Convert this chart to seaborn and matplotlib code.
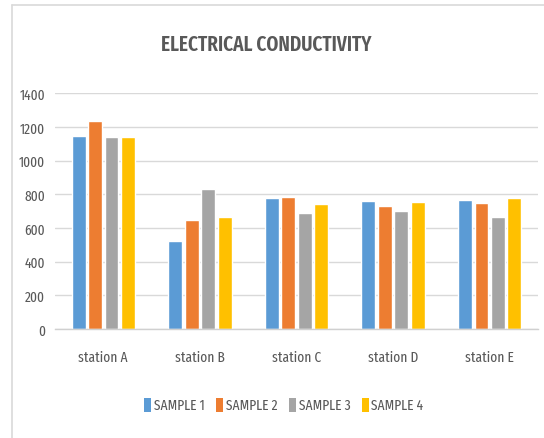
import matplotlib
matplotlib.use("Agg")
import matplotlib.pyplot as plt
from matplotlib.lines import Line2D
from matplotlib.patches import Patch
import pandas as pd
import seaborn as sns

stations = ["station A", "station B", "station C", "station D", "station E"]
samples = ["SAMPLE 1", "SAMPLE 2", "SAMPLE 3", "SAMPLE 4"]
sample1 = [1148, 525, 776, 762, 768]
sample2 = [1237, 646, 782, 729, 748]
sample3 = [1142, 830, 687, 701, 667]
sample4 = [1142, 668, 742, 756, 776]
colors = ["#5B9BD5", "#ED7D31", "#A5A5A5", "#FFC000"]
yticks = [0, 200, 400, 600, 800, 1000, 1200, 1400]

sns.set_style("white")
plt.rcParams["font.family"] = ["Fira Sans Extra Condensed", "DejaVu Sans"]
text_color = "#595959"

df = pd.DataFrame({
    "station": stations * 4,
    "sample": [s for s in samples for _ in stations],
    "value": sample1 + sample2 + sample3 + sample4,
})

W, H = 544, 439
fig = plt.figure(figsize=(W / 100, H / 100), dpi=100)
ax = fig.add_axes([55 / W, (H - 330) / H, (538 - 55) / W, (330 - 94.3) / H])

sns.barplot(data=df, x="station", y="value", hue="sample", order=stations,
            hue_order=samples, palette=colors, width=0.68, gap=0.15,
            saturation=1, legend=False, ax=ax)

ax.set_ylim(0, 1400)
ax.set_yticks(yticks)
ax.set_yticklabels([str(v) for v in yticks])
ax.set_xlabel("")
ax.set_ylabel("")
ax.yaxis.grid(True, color="#D9D9D9", linewidth=1)
ax.set_axisbelow(True)
for side in ["top", "right", "left"]:
    ax.spines[side].set_visible(False)
ax.spines["bottom"].set_color("#D0D0D0")
ax.spines["bottom"].set_linewidth(1)
ax.tick_params(axis="both", length=0, colors=text_color, labelsize=10.5)
ax.tick_params(axis="y", pad=7)
ax.tick_params(axis="x", pad=15)

fig.text(266 / W, 1 - 45 / H, "ELECTRICAL CONDUCTIVITY", ha="center", va="center",
         fontsize=15, fontweight="semibold", color=text_color)

handles = [Patch(facecolor=c, edgecolor="none") for c in colors]
fig.legend(handles, samples, loc="center", bbox_to_anchor=(284 / W, 1 - 406 / H),
           ncol=4, frameon=False, prop={"size": 10.5},
           handlelength=0.45, handleheight=1.1, handletextpad=0.2,
           columnspacing=0.8, labelcolor=text_color)

# chart frame edges
fig.add_artist(Line2D([12 / W, 12 / W], [0, 1 - 6 / H], transform=fig.transFigure,
                      color="#D9D9D9", linewidth=1.2))
fig.add_artist(Line2D([12 / W, 1], [1 - 6 / H, 1 - 6 / H], transform=fig.transFigure,
                      color="#D9D9D9", linewidth=1.2))

fig.savefig("out.png", dpi=100, facecolor="white")
